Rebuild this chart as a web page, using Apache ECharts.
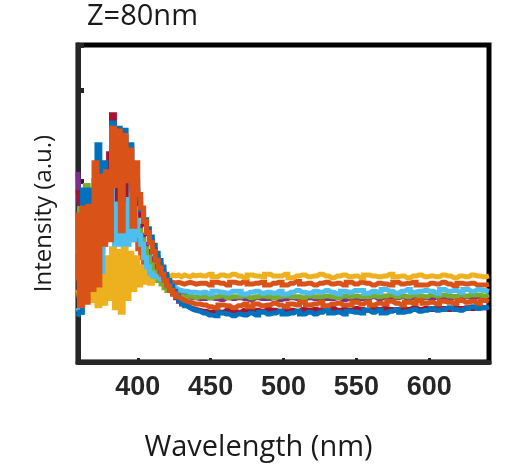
<!DOCTYPE html>
<html><head><meta charset="utf-8">
<script src="https://cdn.jsdelivr.net/npm/echarts@6/dist/echarts.min.js"></script>
<style>html,body{margin:0;padding:0;background:#fff}#c{width:512px;height:475px}</style>
</head><body><div id="c"></div>
<script>
const wavelength = [359,361,363,365,367,369,371,373,375,377,379,381,383,385,387,389,391,393,395,397,399,401,403,405,407,409,411,413,415,417,419,421,423,425,427,429,431,433,435,437,439,441,
445,449,453,457,461,465,469,473,477,481,485,489,493,497,501,505,509,513,517,521,525,529,533,537,541,545,549,553,557,561,565,569,573,577,581,585,589,593,597,601,605,609,613,617,621,625,629,633,637,641];

const xTicks = [400,450,500,550,600];

const orangeA = [0.9,1.4,0.8,1.5,1.0,1.6,1.2,1.7,1.3,1.9,1.5,2.0,1.7,2.1,1.8,1.9,1.6,1.7,1.5,1.45,1.35,1.25,1.15,1.08,1.02,0.98,0.95,0.93,0.91,0.9,0.89,0.88,0.88,0.87,0.88,0.87,0.86,0.87,0.88,0.87,0.86,0.87,
0.87,0.85,0.88,0.87,0.85,0.88,0.87,0.89,0.86,0.87,0.88,0.85,0.87,0.88,0.85,0.87,0.89,0.86,0.87,0.85,0.87,0.88,0.86,0.87,0.85,0.88,0.86,0.88,0.87,0.85,0.87,0.86,0.85,0.88,0.86,0.87,0.88,0.85,0.85,0.87,0.86,0.88,0.86,0.84,0.87,0.86,0.87,0.85,0.85,0.86];

const yellow = [0.8,0.7,0.8,0.7,0.9,0.68,1.05,0.62,1.1,0.65,1.15,0.7,1.25,0.6,1.22,0.55,1.25,0.7,1.2,0.8,1.15,0.85,1.05,0.88,1.0,0.87,0.98,0.9,0.97,0.93,0.96,0.94,0.96,0.95,0.96,0.94,0.96,0.95,0.94,0.96,0.95,0.96,
0.95,0.97,0.94,0.96,0.95,0.97,0.95,0.93,0.96,0.95,0.94,0.97,0.95,0.95,0.97,0.93,0.95,0.96,0.94,0.95,0.97,0.95,0.93,0.95,0.96,0.94,0.95,0.93,0.96,0.95,0.94,0.95,0.97,0.94,0.95,0.93,0.95,0.96,0.94,0.95,0.94,0.96,0.95,0.93,0.95,0.94,0.96,0.95,0.94,0.95];

const purple = [2.1,1.6,1.2,1.6,1.0,1.5,1.2,1.8,1.22,1.9,1.4,2.2,1.8,2.3,1.9,1.75,2.1,1.9,1.8,1.7,1.6,1.5,1.4,1.3,1.22,1.14,1.06,1.0,0.95,0.9,0.86,0.83,0.8,0.78,0.76,0.75,0.74,0.73,0.72,0.71,0.71,0.70,
0.70,0.71,0.70,0.69,0.71,0.70,0.71,0.70,0.69,0.71,0.70,0.70,0.71,0.69,0.70,0.71,0.70,0.69,0.71,0.70,0.71,0.70,0.70,0.71,0.69,0.70,0.71,0.70,0.71,0.72,0.70,0.71,0.70,0.71,0.72,0.70,0.71,0.72,0.71,0.70,0.72,0.71,0.70,0.72,0.71,0.72,0.71,0.72,0.72,0.71];

const green = [1.2,1.7,1.1,1.95,0.82,1.6,1.0,1.8,1.3,1.9,1.6,2.1,2.0,2.3,2.1,2.2,2.0,2.0,1.85,1.75,1.6,1.45,1.35,1.25,1.16,1.08,1.0,0.95,0.9,0.86,0.82,0.79,0.77,0.75,0.74,0.73,0.72,0.72,0.73,0.72,0.71,0.72,
0.72,0.71,0.72,0.73,0.71,0.72,0.72,0.73,0.71,0.72,0.73,0.72,0.71,0.72,0.73,0.72,0.72,0.71,0.73,0.72,0.72,0.73,0.72,0.71,0.73,0.72,0.73,0.72,0.72,0.73,0.72,0.73,0.74,0.72,0.73,0.72,0.74,0.73,0.72,0.74,0.73,0.74,0.73,0.72,0.74,0.73,0.74,0.74,0.73,0.74];

const lightBlue = [0.6,0.55,0.7,1.0,0.8,1.1,0.9,1.2,1.0,1.3,1.4,1.5,2.0,1.3,2.0,1.3,1.95,1.3,1.9,1.35,1.75,1.4,1.3,1.15,1.05,0.98,0.95,0.93,0.91,0.9,0.88,0.86,0.84,0.82,0.8,0.79,0.78,0.78,0.77,0.77,0.77,0.76,
0.77,0.75,0.78,0.77,0.76,0.78,0.78,0.75,0.77,0.78,0.76,0.77,0.76,0.78,0.75,0.77,0.79,0.77,0.76,0.78,0.77,0.79,0.77,0.75,0.78,0.77,0.79,0.79,0.76,0.78,0.77,0.80,0.78,0.76,0.78,0.80,0.77,0.78,0.79,0.78,0.76,0.80,0.78,0.79,0.77,0.80,0.78,0.80,0.79,0.78];

const darkRed = [1.9,1.75,1.0,1.6,1.2,1.7,1.3,2.1,1.9,2.05,1.5,2.3,2.73,2.4,1.8,2.4,1.85,2.35,2.2,2.0,1.9,1.75,1.62,1.52,1.42,1.33,1.24,1.15,1.07,1.0,0.93,0.86,0.8,0.75,0.71,0.67,0.64,0.62,0.6,0.59,0.58,0.57,
0.56,0.55,0.56,0.55,0.57,0.56,0.55,0.57,0.56,0.57,0.56,0.58,0.57,0.56,0.58,0.57,0.56,0.58,0.57,0.58,0.57,0.58,0.59,0.57,0.58,0.57,0.59,0.58,0.57,0.59,0.58,0.59,0.58,0.57,0.59,0.58,0.60,0.58,0.59,0.58,0.60,0.59,0.58,0.60,0.59,0.60,0.59,0.61,0.60,0.60];

const blue = [0.5,0.55,1.9,1.6,1.9,1.2,2.0,2.4,1.5,2.2,2.1,1.6,2.64,2.58,2.58,1.8,2.56,2.4,2.4,1.9,2.0,1.8,1.68,1.57,1.47,1.38,1.29,1.2,1.12,1.05,0.97,0.9,0.84,0.78,0.73,0.68,0.65,0.62,0.6,0.58,0.57,0.56,
0.54,0.52,0.51,0.54,0.53,0.51,0.53,0.52,0.54,0.52,0.55,0.53,0.54,0.56,0.53,0.54,0.56,0.53,0.55,0.53,0.55,0.57,0.54,0.55,0.53,0.56,0.55,0.54,0.57,0.55,0.57,0.54,0.56,0.58,0.55,0.56,0.58,0.56,0.57,0.59,0.57,0.58,0.60,0.58,0.57,0.59,0.61,0.59,0.60,0.61];

const orangeB = [1.65,0.62,1.7,0.66,1.72,0.8,2.2,0.85,2.05,1.3,2.1,1.35,2.58,1.95,2.55,1.45,2.5,2.0,2.34,1.5,2.2,1.85,1.7,1.55,1.43,1.32,1.22,1.12,1.04,0.97,0.9,0.84,0.79,0.75,0.72,0.7,0.68,0.67,0.66,0.65,0.64,0.64,
0.63,0.61,0.60,0.63,0.62,0.60,0.62,0.64,0.61,0.64,0.62,0.63,0.65,0.63,0.61,0.64,0.63,0.66,0.63,0.64,0.66,0.62,0.64,0.65,0.63,0.63,0.66,0.64,0.66,0.63,0.65,0.64,0.67,0.65,0.63,0.66,0.65,0.68,0.65,0.66,0.64,0.67,0.66,0.65,0.68,0.66,0.67,0.65,0.68,0.67];

const seriesList = [
  {name:'s2', color:'#D95319', values: orangeA},
  {name:'s3', color:'#EDB120', values: yellow},
  {name:'s4', color:'#7E2F8E', values: purple},
  {name:'s5', color:'#77AC30', values: green},
  {name:'s6', color:'#4DBEEE', values: lightBlue},
  {name:'s7', color:'#A2142F', values: darkRed},
  {name:'s1', color:'#0072BD', values: blue},
  {name:'s8', color:'#D95319', values: orangeB}
];

const chart = echarts.init(document.getElementById('c'), null, {renderer:'canvas'});
chart.setOption({
  animation: false,
  title: {text:'Z=80nm', left:82, top:-3,
    textStyle:{fontFamily:'Open Sans', fontWeight:'normal', fontSize:29, color:'#1a1a1a'}},
  grid: {left:78, right:23, top:45, bottom:113, show:true, borderColor:'#000', borderWidth:5, backgroundColor:'transparent'},
  xAxis: {
    type:'value', min:359, max:641,
    name:'Wavelength (nm)', nameLocation:'middle', nameGap:71,
    nameTextStyle:{fontFamily:'Open Sans', fontSize:29, color:'#1a1a1a', padding:[0,50,0,0]},
    axisLine:{show:true, onZero:false, lineStyle:{color:'#262626', width:5}},
    axisTick:{show:true, inside:true, length:4, lineStyle:{color:'#262626', width:3}, customValues:xTicks},
    axisLabel:{customValues:xTicks, fontFamily:'Liberation Sans', fontWeight:'bold', fontSize:27, color:'#262626', margin:12},
    splitLine:{show:false}
  },
  yAxis: {
    type:'value', min:0, max:3.5, interval:1,
    name:'Intensity (a.u.)', nameLocation:'middle', nameGap:22,
    nameTextStyle:{fontFamily:'Open Sans', fontSize:24, color:'#1a1a1a', padding:[0,20,0,0]},
    axisLine:{show:true, onZero:false, lineStyle:{color:'#262626', width:5}},
    axisTick:{show:true, inside:true, length:6, lineStyle:{color:'#262626', width:5}},
    axisLabel:{show:false},
    splitLine:{show:false}
  },
  series: seriesList.map(s => ({
    name: s.name, type:'line', step:'middle', showSymbol:false, symbol:'none',
    lineStyle:{color:s.color, width:5, join:'miter', cap:'butt'}, itemStyle:{color:s.color},
    data: wavelength.map((w,i) => [w, s.values[i]])
  }))
});
</script>
</body></html>
